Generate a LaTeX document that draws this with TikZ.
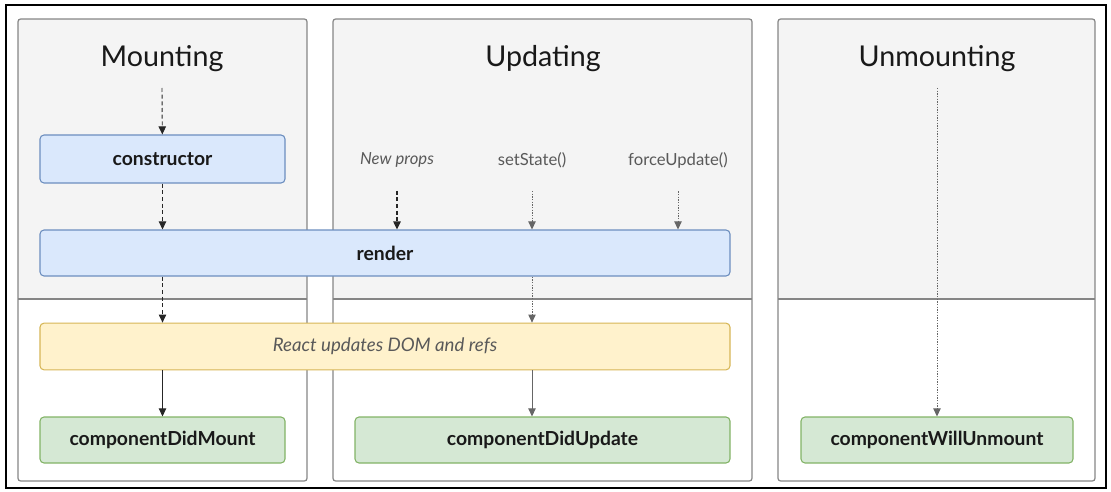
\documentclass[tikz,border=0pt]{standalone}
\usepackage{fontspec}
\setmainfont{Lato}
\usepackage{tikz}
\usetikzlibrary{positioning}
\usetikzlibrary{arrows.meta,calc}
\definecolor{panelgray}{HTML}{F4F4F4}
\definecolor{panelline}{HTML}{858585}
\definecolor{bluefill}{HTML}{DAE8FC}
\definecolor{blueline}{HTML}{6C8EBF}
\definecolor{yellowfill}{HTML}{FFF2CC}
\definecolor{yellowline}{HTML}{D6B656}
\definecolor{greenfill}{HTML}{D5E8D4}
\definecolor{greenline}{HTML}{82B366}
\tikzstyle{phase}=[font=\fontsize{21.5}{26}\selectfont, text=black!90]
\tikzstyle{trigger}=[font=\fontsize{12.5}{15}\selectfont, text=black!65]
\tikzstyle{method}=[draw, rounded corners=3pt, line width=0.8pt, inner sep=0pt, font=\fontsize{14.5}{17}\bfseries\selectfont, text=black!90]
\tikzstyle{bluebox}=[method, fill=bluefill, draw=blueline]
\tikzstyle{yellowbox}=[method, fill=yellowfill, draw=yellowline, font=\fontsize{14}{17}\itshape\selectfont, text=black!65]
\tikzstyle{greenbox}=[method, fill=greenfill, draw=greenline]
\tikzstyle{flow}=[draw=black!85, line width=0.7pt, -{Triangle[length=6pt,width=5.5pt]}]
\tikzstyle{dashflow}=[flow, dash pattern=on 3pt off 2pt]
\tikzstyle{dotflow}=[flow, draw=black!60, line width=0.6pt, dash pattern=on 1pt off 1pt]

\begin{document}
\begin{tikzpicture}[x=0.75pt, y=-0.75pt]

  \useasboundingbox (0,0) rectangle (1111,492);
  \draw[line width=1.5pt] (6,5) rectangle (1106,488);

  % panels
  \foreach \l/\r in {18/307, 333/752, 778/1095}
  {
    \fill[panelgray] (\l,19) rectangle (\r,299);
    \draw[panelline, line width=0.9pt] (\l,299) -- (\r,299);
    \draw[panelline, line width=0.9pt, rounded corners=2pt] (\l,19) rectangle (\r,481);
  }

  \foreach \x/\name/\label in {162/mount/Mounting, 543/update/Updating, 937/unmount/Unmounting}
    \node[phase] (\name) at (\x,59) {\label};

  \foreach \x/\name/\label in {397/props/{\itshape New props}, 532/state/setState(), 678/force/forceUpdate()}
    \node[trigger] (\name) at (\x,160) {\label};

  \node[bluebox, minimum width=183.75pt, minimum height=36pt] (ctor) at (162.5,159) {constructor};
  \node[bluebox, minimum width=517.5pt, minimum height=34.5pt] (render) at (385,253) {render};
  \node[yellowbox, minimum width=517.5pt, minimum height=35pt] (dom) at (385,346.5) {React updates DOM and refs};

  \foreach \x/\name/\label/\w in {162.5/didmount/componentDidMount/183.75pt, 542.5/didupdate/componentDidUpdate/281.25pt, 937/willunmount/componentWillUnmount/204pt}
    \node[greenbox, minimum width=\w, minimum height=34.5pt] (\name) at (\x,440) {\label};

  \coordinate (m0) at (162,88);
  \coordinate (u0) at (937,88);

  \draw[dashflow] (m0) -- (ctor);
  \draw[dashflow] (ctor) -- (ctor.south |- render.north);
  \draw[dashflow] (ctor.south |- render.south) -- (ctor.south |- dom.north);
  \draw[flow] (ctor.south |- dom.south) -- (didmount);

  \draw[dashflow, line width=1.1pt, shorten <=14pt] (props) -- (props |- render.north);
  \draw[dotflow, shorten <=14pt] (state) -- (state |- render.north);
  \draw[dotflow, shorten <=14pt] (force) -- (force |- render.north);
  \draw[dotflow] (state |- render.south) -- (state |- dom.north);
  \draw[flow, draw=black!60] (state |- dom.south) -- (state |- didupdate.north);

  \draw[dotflow] (u0) -- (willunmount);

\end{tikzpicture}
\end{document}
